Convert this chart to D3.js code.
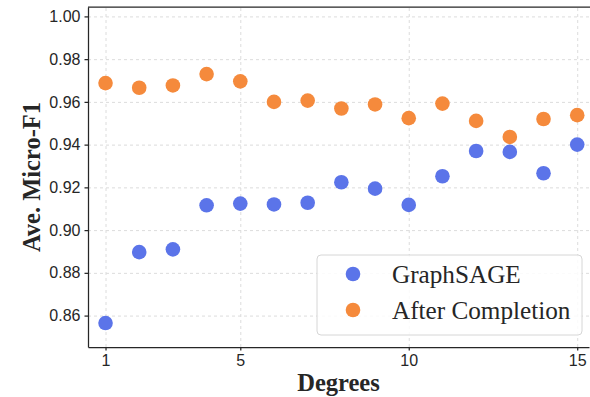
<!DOCTYPE html>
<html>
<head>
<meta charset="utf-8">
<script src="https://cdn.jsdelivr.net/npm/d3@7"></script>
<style>
  body { margin: 0; background: #fff; }
  .grid line { stroke: #dcdcdc; stroke-dasharray: 3,3; stroke-width: 1; }
  .grid .domain { display: none; }
  .axis text { font-family: "Liberation Sans", Arial, sans-serif; font-size: 16px; fill: #262626; }
  .axis line, .axis path { stroke: #262626; stroke-width: 1.25; }
</style>
</head>
<body>
<script>
// degrees on the x axis
const degrees = [1, 2, 3, 4, 5, 6, 7, 8, 9, 10, 11, 12, 13, 14, 15];
// Ave. Micro-F1 per degree
const graphsage = [0.8565, 0.8897, 0.8910, 0.9116, 0.9124, 0.9120, 0.9128, 0.9224, 0.9194, 0.9118, 0.9252, 0.9370, 0.9366, 0.9266, 0.9400];
const afterCompletion = [0.9688, 0.9666, 0.9677, 0.9730, 0.9696, 0.9600, 0.9606, 0.9569, 0.9588, 0.9524, 0.9592, 0.9511, 0.9436, 0.9520, 0.9538];
const xTicks = [1, 5, 10, 15];
const yTicks = [0.86, 0.88, 0.90, 0.92, 0.94, 0.96, 0.98, 1.00];

const series = [
  { name: 'GraphSAGE', values: graphsage, color: '#5b74e9' },
  { name: 'After Completion', values: afterCompletion, color: '#f58a3c' }
];

const width = 590, height = 397;
const margin = { top: 7, right: 1, bottom: 50, left: 88 };

const svg = d3.select('body').append('svg')
  .attr('width', width)
  .attr('height', height);

const x = d3.scaleLinear()
  .domain([0.48, 15.35])
  .range([margin.left, width - margin.right]);

const y = d3.scaleLinear()
  .domain([0.8453, 1.0044])
  .range([height - margin.bottom, margin.top]);

// grid
svg.append('g')
  .attr('class', 'grid')
  .attr('transform', `translate(0,${height - margin.bottom})`)
  .call(d3.axisBottom(x).tickValues(xTicks).tickSize(-(height - margin.bottom - margin.top)).tickFormat(''));

svg.append('g')
  .attr('class', 'grid')
  .attr('transform', `translate(${margin.left},0)`)
  .call(d3.axisLeft(y).tickValues(yTicks).tickSize(-(width - margin.left - margin.right)).tickFormat(''));

// points
series.forEach(s => {
  svg.append('g')
    .selectAll('circle')
    .data(s.values)
    .join('circle')
    .attr('cx', (d, i) => x(degrees[i]))
    .attr('cy', d => y(d))
    .attr('r', 7.3)
    .attr('fill', s.color);
});

// axes
svg.append('g')
  .attr('class', 'axis')
  .attr('transform', `translate(0,${height - margin.bottom})`)
  .call(d3.axisBottom(x).tickValues(xTicks).tickSize(3.5).tickPadding(4).tickSizeOuter(0));

svg.append('g')
  .attr('class', 'axis')
  .attr('transform', `translate(${margin.left},0)`)
  .call(d3.axisLeft(y).tickValues(yTicks).tickSize(3.5).tickPadding(4).tickSizeOuter(0).tickFormat(d3.format('.2f')));

// top spine
svg.append('line')
  .attr('x1', margin.left).attr('x2', width)
  .attr('y1', margin.top).attr('y2', margin.top)
  .attr('stroke', '#262626').attr('stroke-width', 1.25);

// axis titles
svg.append('text')
  .attr('x', (margin.left + width - margin.right) / 2)
  .attr('y', 391)
  .attr('text-anchor', 'middle')
  .attr('font-family', '"Liberation Serif", "Times New Roman", serif')
  .attr('font-weight', 'bold')
  .attr('font-size', 24.5)
  .attr('fill', '#262626')
  .text('Degrees');

svg.append('text')
  .attr('transform', `translate(40,${(margin.top + height - margin.bottom) / 2}) rotate(-90)`)
  .attr('text-anchor', 'middle')
  .attr('font-family', '"Liberation Serif", "Times New Roman", serif')
  .attr('font-weight', 'bold')
  .attr('font-size', 24.5)
  .attr('fill', '#262626')
  .text('Ave. Micro-F1');

// legend
const legend = svg.append('g').attr('transform', 'translate(317,255)');
legend.append('rect')
  .attr('width', 265).attr('height', 80)
  .attr('rx', 4)
  .attr('fill', 'white').attr('fill-opacity', 0.85)
  .attr('stroke', '#d6d6d6');

series.forEach((s, i) => {
  legend.append('circle')
    .attr('cx', 36)
    .attr('cy', 19 + i * 36)
    .attr('r', 7.3)
    .attr('fill', s.color);
  legend.append('text')
    .attr('x', 75)
    .attr('y', 28 + i * 36)
    .attr('font-family', '"Liberation Serif", "Times New Roman", serif')
    .attr('font-size', 25.2)
    .attr('fill', '#262626')
    .text(s.name);
});
</script>
</body>
</html>
